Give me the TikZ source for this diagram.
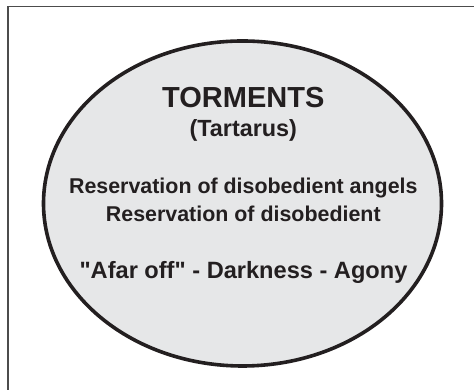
\documentclass[tikz,border=0pt]{standalone}
\usepackage{fontspec}
\setmainfont{Liberation Sans}
\newfontfamily\plainsans{Liberation Sans}
\usepackage{tikz}
\usepackage{xcolor}
\usetikzlibrary{shapes.geometric}

\definecolor{inkdark}{HTML}{231F20}
\definecolor{pitgray}{HTML}{E6E7E8}

\begin{document}
\begin{tikzpicture}[x=1pt, y=1pt, txt/.style={anchor=base, text=inkdark, font=\bfseries, inner sep=0pt}]
    \useasboundingbox (0,0) rectangle (474,390);
    % Frame
    \draw[line width=1.2pt, draw=black!70] (8,-2) -- (8,383.5) -- (476,383.5);

    % Ellipse
    \node[ellipse, draw=inkdark, fill=pitgray, line width=3.6pt, minimum width=398pt, minimum height=325pt, inner sep=0pt] (pit) at (242.5,186.5) {};

    % Title
    \node[txt, font=\bfseries\fontsize{29}{32}\selectfont] (title) at (243.3,282) {TORMENTS};
    \node[txt, font=\bfseries\fontsize{23.4}{26}\selectfont] (sub) at (243.3,253) {(Tartarus)};

    % Lines of text
    \node[txt, font=\bfseries\fontsize{21.4}{24}\selectfont] (res1) at (243.3,196) {Reservation of disobedient angels};
    \node[txt, font=\bfseries\fontsize{21.4}{24}\selectfont] (res2) at (243.3,168) {Reservation of disobedient};
    \node[txt, font=\plainsans\bfseries\fontsize{23.6}{26}\selectfont] (afar) at (243.5,111) {"Afar off" - Darkness - Agony};
\end{tikzpicture}
\end{document}
